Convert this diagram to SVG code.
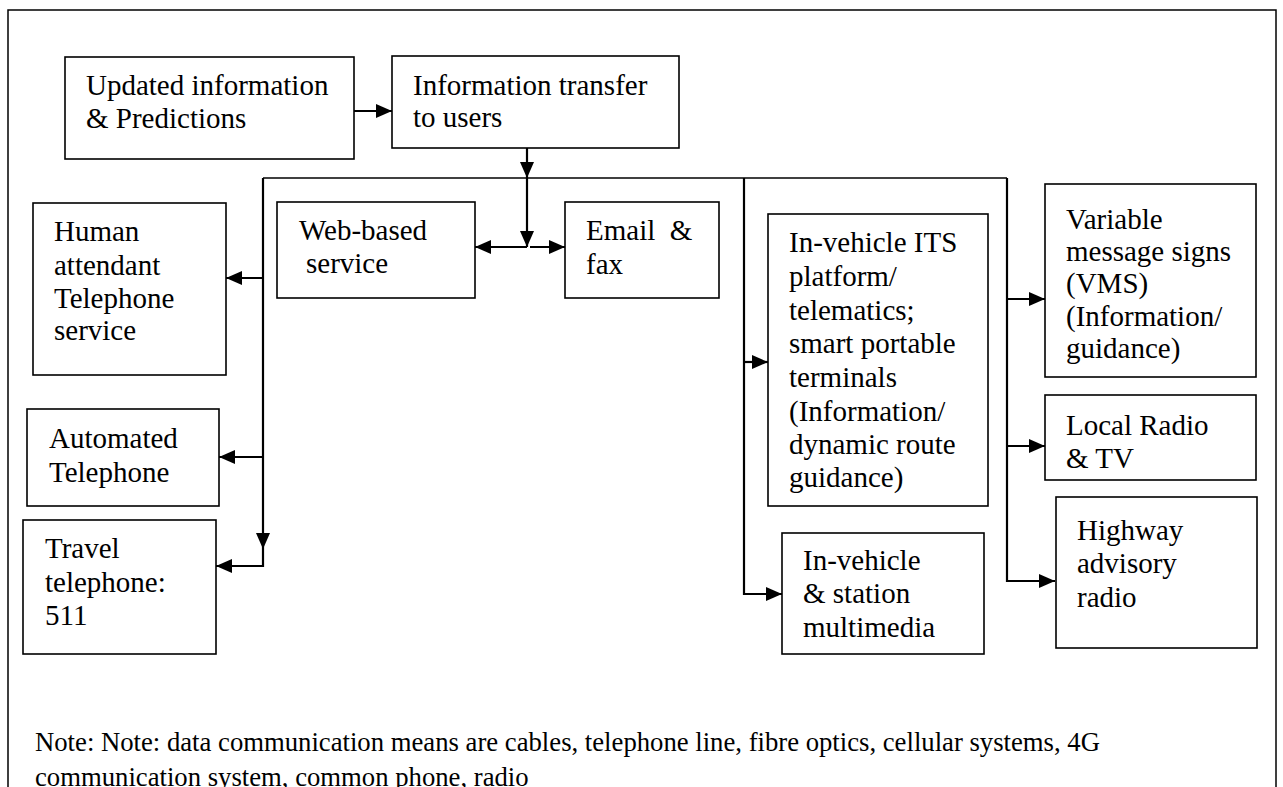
<svg xmlns="http://www.w3.org/2000/svg" width="1283" height="787" viewBox="0 0 1283 787">
  <style>
    .frame { fill: #fff; stroke: #000; stroke-width: 1.5; }
    .box { fill: #fff; stroke: #000; stroke-width: 1.6; }
    .lbl { font-family: "Liberation Serif", "Times New Roman", serif; font-size: 29px; fill: #000; }
    .note { font-family: "Liberation Serif", "Times New Roman", serif; font-size: 26.7px; fill: #000; }
    .wire { fill: none; stroke: #000; stroke-width: 2.2; }
    .bus { fill: none; stroke: #000; stroke-width: 1.6; }
  </style>
  <defs>
    <marker id="arrow" markerUnits="userSpaceOnUse" markerWidth="16" markerHeight="14" refX="16" refY="7" orient="auto">
      <path d="M0,0 L16,7 L0,14 z" fill="#000"/>
    </marker>
  </defs>

  <!-- page frame -->
  <rect class="frame" x="8" y="10" width="1268" height="800"/>

  <!-- connectors -->
  <g id="connectors">
    <path class="wire" d="M354,111 H392" marker-end="url(#arrow)"/>
    <path class="wire" d="M527,148 V178" marker-end="url(#arrow)"/>
    <path class="bus" d="M263,178 H1007"/>
    <path class="wire" d="M527,178 V247" marker-end="url(#arrow)"/>
    <path class="wire" d="M527,247 H475" marker-end="url(#arrow)"/>
    <path class="wire" d="M530,247 H565" marker-end="url(#arrow)"/>
    <!-- left telephone branch -->
    <path class="wire" d="M263,178 V549" marker-end="url(#arrow)"/>
    <path class="wire" d="M263,549 V566 H216" marker-end="url(#arrow)"/>
    <path class="wire" d="M263,278 H226" marker-end="url(#arrow)"/>
    <path class="wire" d="M263,457 H219" marker-end="url(#arrow)"/>
    <!-- in-vehicle branch -->
    <path class="wire" d="M744,178 V594 H782" marker-end="url(#arrow)"/>
    <path class="wire" d="M744,362 H768" marker-end="url(#arrow)"/>
    <!-- roadside branch -->
    <path class="wire" d="M1007,178 V581 H1055" marker-end="url(#arrow)"/>
    <path class="wire" d="M1007,299 H1045" marker-end="url(#arrow)"/>
    <path class="wire" d="M1007,446 H1045" marker-end="url(#arrow)"/>
  </g>

  <g id="updated-info">
    <rect class="box" x="65" y="57" width="289" height="102"/>
    <text class="lbl"><tspan x="86" y="95">Updated information</tspan><tspan x="86" y="128">&amp; Predictions</tspan></text>
  </g>

  <g id="info-transfer">
    <rect class="box" x="392" y="56" width="287" height="92"/>
    <text class="lbl"><tspan x="413" y="95">Information transfer</tspan><tspan x="413" y="127">to users</tspan></text>
  </g>

  <g id="web-service">
    <rect class="box" x="277" y="202" width="198" height="96"/>
    <text class="lbl"><tspan x="299" y="240">Web-based</tspan><tspan x="306" y="273">service</tspan></text>
  </g>

  <g id="email-fax">
    <rect class="box" x="565" y="202" width="154" height="96"/>
    <text class="lbl" xml:space="preserve"><tspan x="586" y="240">Email  &amp;</tspan><tspan x="586" y="274">fax</tspan></text>
  </g>

  <g id="human-telephone">
    <rect class="box" x="33" y="203" width="193" height="172"/>
    <text class="lbl"><tspan x="54" y="241">Human</tspan><tspan x="54" y="275">attendant</tspan><tspan x="54" y="308">Telephone</tspan><tspan x="54" y="340">service</tspan></text>
  </g>

  <g id="automated-telephone">
    <rect class="box" x="27" y="409" width="192" height="97"/>
    <text class="lbl"><tspan x="49" y="448">Automated</tspan><tspan x="49" y="482">Telephone</tspan></text>
  </g>

  <g id="travel-telephone">
    <rect class="box" x="23" y="520" width="193" height="134"/>
    <text class="lbl"><tspan x="45" y="558">Travel</tspan><tspan x="45" y="592">telephone:</tspan><tspan x="45" y="625">511</tspan></text>
  </g>

  <g id="in-vehicle-its">
    <rect class="box" x="768" y="214" width="220" height="292"/>
    <text class="lbl"><tspan x="789" y="252">In-vehicle ITS</tspan><tspan x="789" y="286">platform/</tspan><tspan x="789" y="320">telematics;</tspan><tspan x="789" y="353">smart portable</tspan><tspan x="789" y="387">terminals</tspan><tspan x="789" y="421">(Information/</tspan><tspan x="789" y="454">dynamic route</tspan><tspan x="789" y="487">guidance)</tspan></text>
  </g>

  <g id="station-multimedia">
    <rect class="box" x="782" y="533" width="202" height="121"/>
    <text class="lbl"><tspan x="803" y="570">In-vehicle</tspan><tspan x="803" y="603">&amp; station</tspan><tspan x="803" y="637">multimedia</tspan></text>
  </g>

  <g id="vms">
    <rect class="box" x="1045" y="184" width="211" height="193"/>
    <text class="lbl"><tspan x="1066" y="229">Variable</tspan><tspan x="1066" y="261">message signs</tspan><tspan x="1066" y="293">(VMS)</tspan><tspan x="1066" y="326">(Information/</tspan><tspan x="1066" y="358">guidance)</tspan></text>
  </g>

  <g id="local-radio-tv">
    <rect class="box" x="1045" y="395" width="211" height="85"/>
    <text class="lbl"><tspan x="1066" y="435">Local Radio</tspan><tspan x="1066" y="468">&amp; TV</tspan></text>
  </g>

  <g id="highway-radio">
    <rect class="box" x="1056" y="497" width="201" height="151"/>
    <text class="lbl"><tspan x="1077" y="540">Highway</tspan><tspan x="1077" y="573">advisory</tspan><tspan x="1077" y="607">radio</tspan></text>
  </g>

  <!-- footnote; the second line runs off the bottom of the page -->
  <text class="note"><tspan x="35" y="751">Note: Note: data communication means are cables, telephone line, fibre optics, cellular systems, 4G</tspan><tspan x="35" y="786">communication system, common phone, radio</tspan></text>
</svg>
